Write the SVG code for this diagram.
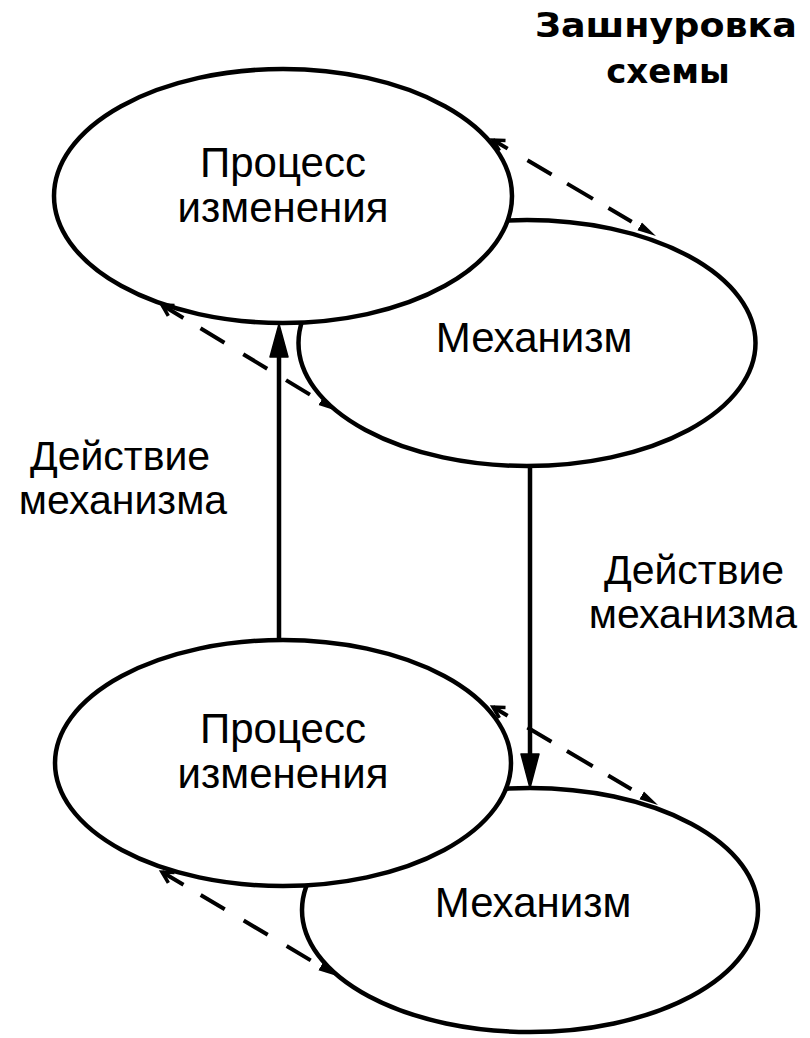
<svg xmlns="http://www.w3.org/2000/svg" width="810" height="1038" viewBox="0 0 810 1038">
  <style>
    .node { fill: #fff; stroke: #000; stroke-width: 4.5; }
    .lbl { font-family: "Liberation Sans", Arial, sans-serif; font-size: 42px; fill: #000; text-anchor: middle; }
    .elbl { font-family: "Liberation Sans", Arial, sans-serif; font-size: 41px; fill: #000; text-anchor: middle; }
    .ttl { font-family: "DejaVu Sans", "Liberation Sans", sans-serif; font-weight: bold; font-size: 34px; fill: #000; text-anchor: middle; }
    .arrow { stroke: #000; stroke-width: 4.5; fill: none; }
    .head { fill: #000; stroke: #000; stroke-width: 1.5; stroke-linejoin: round; }
    .dash { stroke: #000; stroke-width: 4; fill: none; }
  </style>
  <defs>
    <marker id="tipFill" markerUnits="userSpaceOnUse" markerWidth="22" markerHeight="14" refX="19" refY="7" orient="auto">
      <path d="M0,2.5 L19,7 L0,11.5 Z" fill="#000"/>
    </marker>
    <marker id="barb" markerUnits="userSpaceOnUse" markerWidth="18" markerHeight="16" refX="13" refY="8" orient="auto-start-reverse">
      <path d="M2,2 L13,8 L2,14" fill="none" stroke="#000" stroke-width="3.5"/>
    </marker>
  </defs>

  <g id="title">
    <text class="ttl" x="666" y="37" textLength="262" lengthAdjust="spacingAndGlyphs">Зашнуровка</text>
    <text class="ttl" x="668" y="83">схемы</text>
  </g>

  <g id="node-mechanism-1">
    <ellipse class="node" cx="527" cy="343" rx="228.5" ry="123"/>
    <text class="lbl" x="534" y="352">Механизм</text>
  </g>
  <g id="node-process-1">
    <ellipse class="node" cx="283" cy="196" rx="229" ry="127"/>
    <text class="lbl" x="283" y="177">Процесс</text>
    <text class="lbl" x="283" y="222">изменения</text>
  </g>

  <g id="node-mechanism-2">
    <ellipse class="node" cx="530" cy="910" rx="228" ry="122"/>
    <text class="lbl" x="533" y="917">Механизм</text>
  </g>
  <g id="node-process-2">
    <ellipse class="node" cx="283" cy="763" rx="228" ry="123"/>
    <text class="lbl" x="283" y="743">Процесс</text>
    <text class="lbl" x="283" y="788">изменения</text>
  </g>

  <g id="edge-labels">
    <text class="elbl" x="120" y="470">Действие</text>
    <text class="elbl" x="123" y="514">механизма</text>
    <text class="elbl" x="694" y="584">Действие</text>
    <text class="elbl" x="693" y="628">механизма</text>
  </g>

  <g id="connectors">
    <!-- action of mechanism: bottom process up to top process -->
    <line class="arrow" x1="279" y1="641" x2="279" y2="350"/>
    <path class="head" d="M279,324 L288,357 L270,357 Z"/>
    <!-- action of mechanism: top mechanism down to bottom mechanism -->
    <line class="arrow" x1="530" y1="466" x2="530" y2="760"/>
    <path class="head" d="M530,788 L521,754 L539,754 Z"/>

    <!-- lacing, top pair -->
    <path class="dash" d="M493,140 L656,236" stroke-dasharray="17 23 28 18 30 18 27 100" marker-start="url(#barb)" marker-end="url(#tipFill)"/>
    <path class="dash" d="M162,305 L337,411" stroke-dasharray="25 20 28 22 28 22 28 100" marker-start="url(#barb)" marker-end="url(#tipFill)"/>

    <!-- lacing, bottom pair -->
    <path class="dash" d="M493,707 L658,805" stroke-dasharray="17 23 28 18 30 18 27 100" marker-start="url(#barb)" marker-end="url(#tipFill)"/>
    <path class="dash" d="M162,872 L337,976" stroke-dasharray="25 20 28 22 28 22 28 100" marker-start="url(#barb)" marker-end="url(#tipFill)"/>
  </g>
</svg>
